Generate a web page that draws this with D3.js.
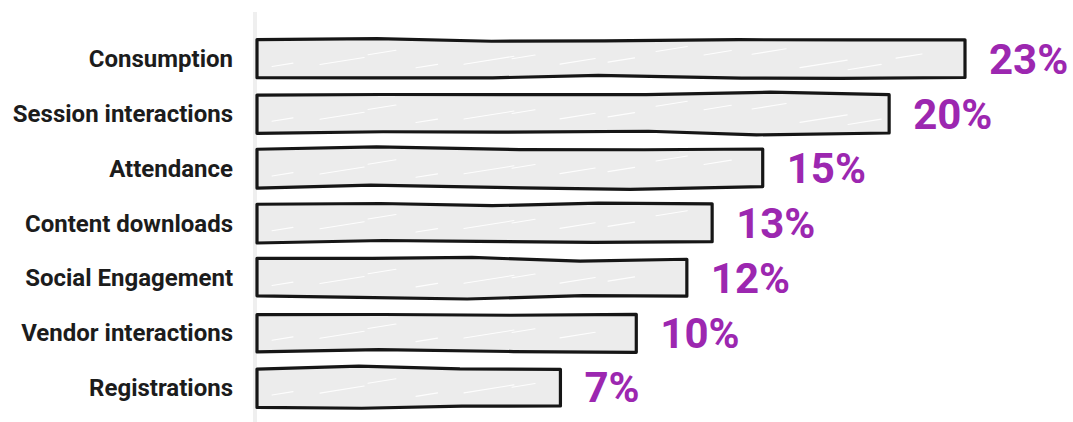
<!DOCTYPE html>
<html>
<head>
<meta charset="utf-8">
<script src="https://cdn.jsdelivr.net/npm/d3@7"></script>
<style>
  html, body { margin: 0; padding: 0; background: #ffffff; }
  svg { display: block; }
</style>
</head>
<body>
<svg id="chart" width="1073" height="422"></svg>
<script>
// Engagement share by activity
const categories = [
  "Consumption",
  "Session interactions",
  "Attendance",
  "Content downloads",
  "Social Engagement",
  "Vendor interactions",
  "Registrations"
];
const values = [23, 20, 15, 13, 12, 10, 7];
const valueLabels = ["23%", "20%", "15%", "13%", "12%", "10%", "7%"];

const W = 1073, H = 422;
const svg = d3.select("#chart");

const x = d3.scaleLinear().domain([-5, 23]).range([257, 965]);
const y = d3.scaleBand().domain(categories).range([23, 423]).padding(0.305);

// deterministic jitter for the sketchy outline
function jitter(seed) {
  const s = Math.sin(seed * 12.9898 + 78.233) * 43758.5453;
  return (s - Math.floor(s)) * 2 - 1;
}

// faint vertical baseline
svg.append("line")
  .attr("x1", 255).attr("x2", 255)
  .attr("y1", 12).attr("y2", H)
  .attr("stroke", "#efefef")
  .attr("stroke-width", 4);

const line = d3.line().curve(d3.curveLinear);

function sketchOutline(x0, x1, y0, y1, seed) {
  const w = x1 - x0;
  const n = Math.max(3, Math.round(w / 120));
  const top = [], bot = [];
  for (let k = 0; k <= n; k++) {
    const px = x0 + (w * k) / n + (k > 0 && k < n ? jitter(seed + k) * 15 : 0);
    const dy = k === 0 || k === n ? jitter(seed * 3 + k) * 1.2 : jitter(seed * 3 + k) * 2.4;
    top.push([px, y0 + dy]);
  }
  for (let k = n; k >= 0; k--) {
    const px = x0 + (w * k) / n + (k > 0 && k < n ? jitter(seed + 50 + k) * 15 : 0);
    const dy = k === 0 || k === n ? jitter(seed * 7 + k) * 1.2 : jitter(seed * 7 + k) * 2.4;
    bot.push([px, y1 + dy]);
  }
  return top.concat(bot);
}

const g = svg.append("g");

categories.forEach((c, i) => {
  const y0 = y(c), y1 = y(c) + y.bandwidth();
  const x0 = x.range()[0], x1 = x(values[i]);
  const pts = sketchOutline(x0, x1, y0, y1, i + 1);

  // fill
  g.append("path")
    .attr("d", line(pts) + "Z")
    .attr("fill", "#ececec")
    .attr("stroke", "none");

  // light hachure strokes
  const hg = g.append("g").attr("stroke", "#ffffff").attr("stroke-width", 1.1)
    .attr("stroke-opacity", 0.9).attr("stroke-linecap", "round");
  for (let hx = x0 + 15; hx < x1 - 40; hx += 48) {
    const k = Math.round(hx);
    const sy = y0 + 8 + Math.abs(jitter(k)) * (y1 - y0 - 16);
    const len = 20 + Math.abs(jitter(k + 3)) * 30;
    hg.append("line")
      .attr("x1", hx).attr("y1", sy)
      .attr("x2", hx + len).attr("y2", sy - len * 0.16);
  }

  // outline
  g.append("path")
    .attr("d", line(pts) + "Z")
    .attr("fill", "none")
    .attr("stroke", "#161616")
    .attr("stroke-width", 3.2)
    .attr("stroke-linejoin", "round");
});

// category labels
svg.append("g").selectAll("text")
  .data(categories)
  .join("text")
  .attr("x", 233)
  .attr("y", d => y(d) + y.bandwidth() / 2)
  .attr("dy", "0.36em")
  .attr("text-anchor", "end")
  .attr("font-family", "Roboto, sans-serif")
  .attr("font-weight", 700)
  .attr("font-size", 24)
  .attr("fill", "#1c1c1c")
  .text(d => d);

// value labels
svg.append("g").selectAll("text")
  .data(categories)
  .join("text")
  .attr("x", (d, i) => x(values[i]) + 24)
  .attr("y", d => y(d) + y.bandwidth() / 2)
  .attr("dy", "0.36em")
  .attr("font-family", "Roboto, sans-serif")
  .attr("font-weight", 700)
  .attr("font-size", 42)
  .attr("fill", "#9c27b0")
  .text((d, i) => valueLabels[i]);
</script>
</body>
</html>
